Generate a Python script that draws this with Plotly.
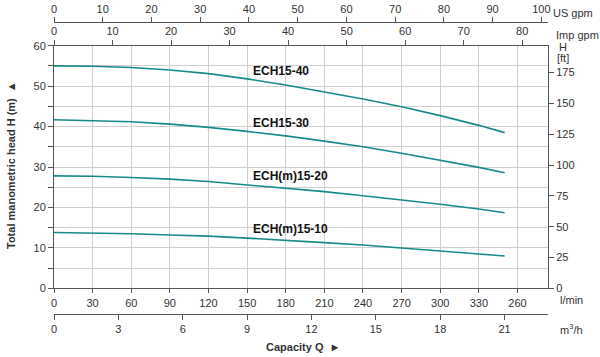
import plotly.graph_objects as go

# ---- data ----
q_lmin = [0, 30, 60, 90, 120, 150, 180, 210, 240, 270, 300, 330, 350]
h_ech15_40 = [55.0, 54.9, 54.6, 54.0, 53.1, 51.8, 50.3, 48.6, 46.8, 44.9, 42.7, 40.3, 38.5]
h_ech15_30 = [41.7, 41.5, 41.2, 40.6, 39.8, 38.8, 37.7, 36.4, 35.0, 33.4, 31.7, 29.9, 28.6]
h_ech15_20 = [27.8, 27.7, 27.4, 27.0, 26.4, 25.6, 24.8, 23.9, 22.9, 21.9, 20.8, 19.6, 18.7]
h_ech15_10 = [13.8, 13.7, 13.5, 13.2, 12.9, 12.4, 11.9, 11.3, 10.7, 10.0, 9.3, 8.6, 8.0]
series_names = ["ECH15-40", "ECH15-30", "ECH(m)15-20", "ECH(m)15-10"]
label_q = [153, 153, 153, 153]
label_h = [53.7, 41.0, 27.8, 14.6]

lmin_ticks = [0, 30, 60, 90, 120, 150, 180, 210, 240, 270, 300, 330, 360]
lmin_labels = ["0", "30", "60", "90", "120", "150", "180", "210", "240", "270", "300", "330", "260"]
m3h_ticks = [0, 3, 6, 9, 12, 15, 18, 21]
imp_ticks = [0, 10, 20, 30, 40, 50, 60, 70, 80]
us_ticks = [0, 10, 20, 30, 40, 50, 60, 70, 80, 90, 100]
m_ticks = [0, 10, 20, 30, 40, 50, 60]
ft_ticks = [0, 25, 50, 75, 100, 125, 150, 175]

# ---- layout geometry ----
W, H = 600, 357
ML, MR, MT, MB = 54, 52, 5, 5
PW, PH = W - ML - MR, H - MT - MB
def px(x):
    return (x - ML) / PW
def py(y):
    return (H - MB - y) / PH

QMAX = 383.7
LINE = "#178a8c"
GRID = "#cfcfcf"
AX = "#555555"
TF = dict(family="Liberation Sans, Arial, sans-serif", size=11, color="#333333")

fig = go.Figure()
for name, hv in zip(series_names, [h_ech15_40, h_ech15_30, h_ech15_20, h_ech15_10]):
    fig.add_trace(go.Scatter(x=q_lmin, y=hv, mode="lines", name=name,
                             line=dict(color=LINE, width=1.6, shape="linear"),
                             showlegend=False, hoverinfo="skip"))
# dummy traces so auxiliary axes exist
for xa, ya in [("x2", "y"), ("x3", "y"), ("x4", "y"), ("x", "y2")]:
    fig.add_trace(go.Scatter(x=[None], y=[None], xaxis=xa, yaxis=ya, showlegend=False, hoverinfo="skip"))

ydom = [py(288.3), py(45.7)]

fig.update_layout(
    template="none",
    width=W, height=H,
    margin=dict(l=ML, r=MR, t=MT, b=MB, autoexpand=False),
    paper_bgcolor="white", plot_bgcolor="white",
    font=TF,
    xaxis=dict(range=[0, QMAX], tickvals=lmin_ticks, ticktext=lmin_labels, automargin=False,
               showgrid=True, gridcolor=GRID, gridwidth=1, zeroline=False,
               showline=True, linecolor=AX, linewidth=1, ticks="outside", ticklen=4,
               tickcolor=AX, anchor="y", side="bottom", tickfont=TF),
    xaxis2=dict(range=[0, QMAX / 16.6667], tickvals=m3h_ticks, overlaying="x", automargin=False,
                anchor="free", position=py(314), side="bottom",
                showgrid=False, zeroline=False, showline=True, linecolor=AX, linewidth=1,
                ticks="outside", ticklen=5, tickcolor=AX, tickfont=TF),
    xaxis3=dict(range=[0, QMAX / 4.54609], tickvals=imp_ticks, overlaying="x", automargin=False,
                anchor="y", side="top", showgrid=False, zeroline=False,
                showline=True, linecolor=AX, linewidth=1,
                ticks="outside", ticklen=5, tickcolor=AX, tickfont=TF),
    xaxis4=dict(range=[0, QMAX / 3.78541], tickvals=us_ticks, overlaying="x", automargin=False,
                anchor="free", position=py(22), side="top", showgrid=False, zeroline=False,
                showline=True, linecolor=AX, linewidth=1,
                ticks="outside", ticklen=5, tickcolor=AX, tickfont=TF),
    yaxis=dict(range=[0, 60], domain=ydom, tickvals=m_ticks, showgrid=True, automargin=False,
               gridcolor=GRID, gridwidth=1, zeroline=False, showline=True,
               linecolor=AX, linewidth=1, ticks="outside", ticklen=5, tickcolor=AX,
               tickfont=TF, anchor="x",
               minor=dict(dtick=5, tick0=0, showgrid=True, gridcolor=GRID,
                          ticks="outside", ticklen=5, tickcolor=AX)),
    yaxis2=dict(range=[0, 60 * 3.28084], tickvals=ft_ticks, overlaying="y", side="right",
                anchor="x", showgrid=False, zeroline=False, showline=True, automargin=False,
                linecolor=AX, linewidth=1, ticks="outside", ticklen=5, tickcolor=AX,
                tickfont=TF),
)

ann = []
for name, qx, hy in zip(series_names, label_q, label_h):
    ann.append(dict(x=qx, y=hy, xref="x", yref="y", text="<b>%s</b>" % name,
                    showarrow=False, xanchor="left", yanchor="middle",
                    font=dict(family="Liberation Sans, Arial, sans-serif", size=12, color="#111111")))

def side_text(t, x, y, xanchor="left", size=11, **kw):
    ann.append(dict(x=px(x), y=py(y), xref="paper", yref="paper", text=t, showarrow=False,
                    xanchor=xanchor, yanchor="middle",
                    font=dict(family="Liberation Sans, Arial, sans-serif", size=size, color="#333333"), **kw))

side_text("US gpm", 551, 13)
side_text("Imp gpm", 554, 35)
side_text("H", 563, 47, xanchor="center")
side_text("[ft]", 563, 58, xanchor="center")
side_text("l/min", 558, 300)
side_text("m<sup>3</sup>/h", 558, 329)
side_text("<b>Capacity Q  ►</b>", 303, 347, xanchor="center", size=11)
side_text("<b>Total manometric head H (m)  ▲</b>", 11, 165, xanchor="center", size=11, textangle=-90)

fig.update_layout(annotations=ann)
fig.write_html("out.html", config={"displayModeBar": False},
               post_script="document.body.style.margin='0px';document.body.style.overflow='hidden';")
